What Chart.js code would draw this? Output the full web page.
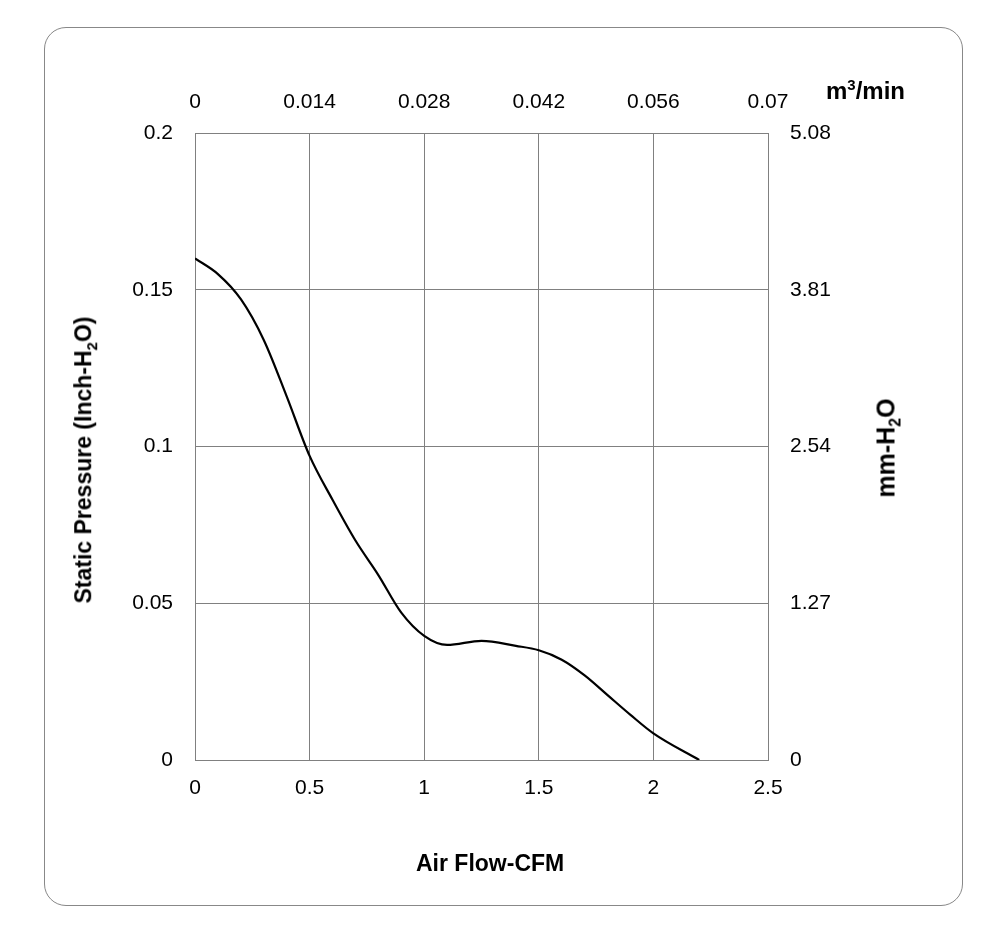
<!DOCTYPE html>
<html>
<head>
<meta charset="utf-8">
<script src="https://cdn.jsdelivr.net/npm/chart.js@4"></script>
<style>
  body { margin: 0; background: #fff; font-family: "Liberation Sans", Arial, sans-serif; }
  #wrap { position: relative; width: 1000px; height: 946px; }
  #frame { position: absolute; left: 44px; top: 27px; width: 917px; height: 877px; border: 1.5px solid #888; border-radius: 22px; }
  canvas { position: absolute; left: 0; top: 0; }
  .lbl { position: absolute; font-weight: bold; font-size: 23px; color: #000; white-space: nowrap; }
</style>
</head>
<body>
<div id="wrap">
  <div id="frame"></div>
  <canvas id="chart" width="1000" height="946"></canvas>
  <div class="lbl" style="left:416px; top:850px;">Air Flow-CFM</div>
  <div class="lbl" style="left:826px; top:76px; font-size:24px;">m<sup style="font-size:15px">3</sup>/min</div>
  <div class="lbl" style="left:85px; top:460px; transform: translate(-50%,-50%) rotate(-90deg);">Static Pressure (Inch-H<sub style="font-size:15px">2</sub>O)</div>
  <div class="lbl" style="left:888px; top:448px; font-size:25px; transform: translate(-50%,-50%) rotate(-90deg);">mm-H<sub style="font-size:16px">2</sub>O</div>
</div>
<script>
// air flow (CFM) vs static pressure (inch H2O)
const flowCFM = [0, 0.1, 0.2, 0.3, 0.4, 0.5, 0.6, 0.7, 0.8, 0.9, 1.0, 1.1, 1.25, 1.4, 1.5, 1.6, 1.7, 1.8, 1.9, 2.0, 2.2];
const pressure = [0.160, 0.155, 0.147, 0.134, 0.116, 0.097, 0.083, 0.070, 0.059, 0.047, 0.0396, 0.0367, 0.038, 0.0364, 0.035, 0.032, 0.027, 0.0207, 0.0144, 0.0085, 0];

const bottomTicks = [0, 0.5, 1, 1.5, 2, 2.5];
const bottomLabels = ['0', '0.5', '1', '1.5', '2', '2.5'];
const topTicks = ['0', '0.014', '0.028', '0.042', '0.056', '0.07'];
const leftTicks = [0, 0.05, 0.1, 0.15, 0.2];
const leftLabels = ['0', '0.05', '0.1', '0.15', '0.2'];
const rightTicks = ['0', '1.27', '2.54', '3.81', '5.08'];

const tickFont = { family: '"Liberation Sans", Arial, sans-serif', size: 21 };
const gridColor = '#808080';

function fixSize(size, horiz) {
    return function (scale) {
        if (horiz) scale.height = size; else scale.width = size;
    };
}

new Chart(document.getElementById('chart'), {
    type: 'line',
    data: {
        datasets: [{
            data: flowCFM.map((x, i) => ({ x: x, y: pressure[i] })),
            borderColor: '#000',
            borderWidth: 2.2,
            pointRadius: 0,
            cubicInterpolationMode: 'monotone',
            fill: false,
        }],
    },
    options: {
        responsive: false,
        animation: false,
        layout: { padding: 0 },
        plugins: { legend: { display: false }, tooltip: { enabled: false } },
        scales: {
            x: {
                type: 'linear', position: 'bottom', min: 0, max: 2.5,
                afterBuildTicks: s => { s.ticks = bottomTicks.map(v => ({ value: v })); },
                afterFit: fixSize(186, true),
                ticks: { font: tickFont, color: '#000', padding: 16, maxRotation: 0,
                         callback: (v, i) => bottomLabels[i] },
                grid: { color: gridColor, drawTicks: false },
                border: { color: gridColor },
            },
            x2: {
                type: 'linear', position: 'top', min: 0, max: 2.5,
                afterBuildTicks: s => { s.ticks = bottomTicks.map(v => ({ value: v })); },
                afterFit: fixSize(133, true),
                ticks: { font: tickFont, color: '#000', padding: 18, maxRotation: 0,
                         callback: (v, i) => topTicks[i] },
                grid: { display: false, drawTicks: false },
                border: { color: gridColor },
            },
            y: {
                type: 'linear', position: 'left', min: 0, max: 0.2,
                afterBuildTicks: s => { s.ticks = leftTicks.map(v => ({ value: v })); },
                afterFit: fixSize(195, false),
                ticks: { font: tickFont, color: '#000', padding: 22,
                         callback: (v, i) => leftLabels[i] },
                grid: { color: gridColor, drawTicks: false },
                border: { color: gridColor },
            },
            y2: {
                type: 'linear', position: 'right', min: 0, max: 0.2,
                afterBuildTicks: s => { s.ticks = leftTicks.map(v => ({ value: v })); },
                afterFit: fixSize(232, false),
                ticks: { font: tickFont, color: '#000', padding: 22,
                         callback: (v, i) => rightTicks[i] },
                grid: { display: false, drawTicks: false },
                border: { color: gridColor },
            },
        },
    },
});
</script>
</body>
</html>
